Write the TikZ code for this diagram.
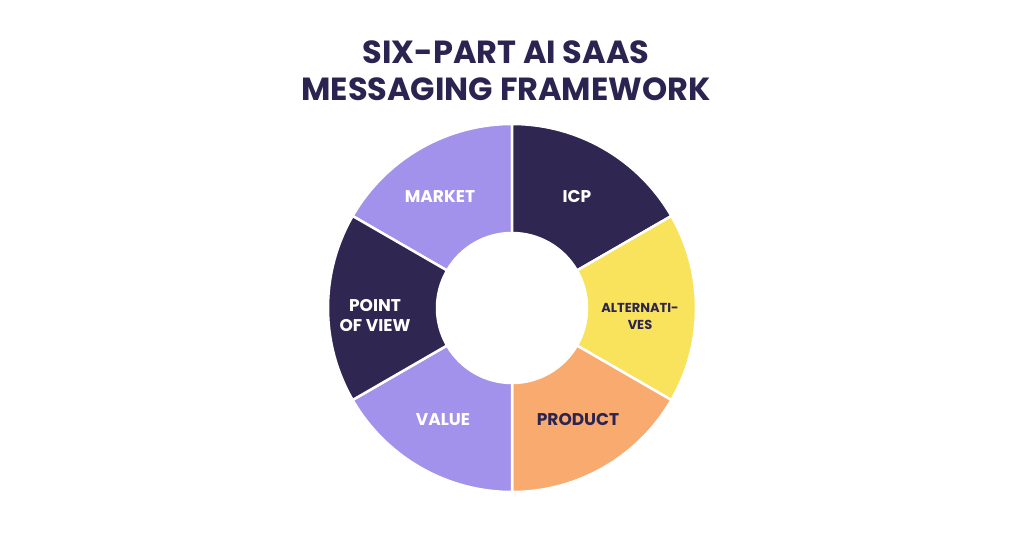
\documentclass[tikz,border=0pt]{standalone}
\usepackage{fontspec}
\setmainfont{Poppins}
\usetikzlibrary{calc}
\begin{document}
\begin{tikzpicture}[x=1pt,y=1pt,
  seg/.style={draw=white,line width=2.5pt},
  lab/.style={font=\fontsize{17}{20}\selectfont\bfseries,align=center},
  ttl/.style={font=\fontsize{32}{40}\selectfont\bfseries,text=navy,align=center}]
\definecolor{navy}{HTML}{2C2450}
\definecolor{lpur}{HTML}{A292EC}
\definecolor{dpur}{HTML}{2F2652}
\definecolor{yel}{HTML}{F9E25C}
\definecolor{ora}{HTML}{F9AA6E}
\fill[white] (0,0) rectangle (1024,538);
\useasboundingbox (0,0) rectangle (1024,538);
\coordinate (c) at (512,230);
\def\R{184}\def\r{75}
\foreach \a/\col in {90/lpur,30/dpur,-30/yel,-90/ora,-150/lpur,150/dpur}{
  \filldraw[seg,fill=\col] ($(c)+(\a:\r)$) arc[start angle=\a,end angle=\a+60,radius=\r]
    -- ($(c)+(\a+60:\R)$) arc[start angle=\a+60,end angle=\a,radius=\R] -- cycle;
}
\node[ttl] (t) at (506,467) {SIX-PART AI SAAS\\[-3pt]MESSAGING FRAMEWORK};
\node[lab,text=white] (m) at (440,341) {MARKET};
\node[lab,text=white] (i) at (577,341) {ICP};
\node[lab,text=navy,font=\fontsize{13}{17}\selectfont\bfseries] (al) at (640,222) {ALTERNATI-\\VES};
\node[lab,text=navy] (p) at (578,118) {PRODUCT};
\node[lab,text=white] (v) at (443,118) {VALUE};
\node[lab,text=white] (pv) at (375,222) {POINT\\OF VIEW};
\end{tikzpicture}
\end{document}
